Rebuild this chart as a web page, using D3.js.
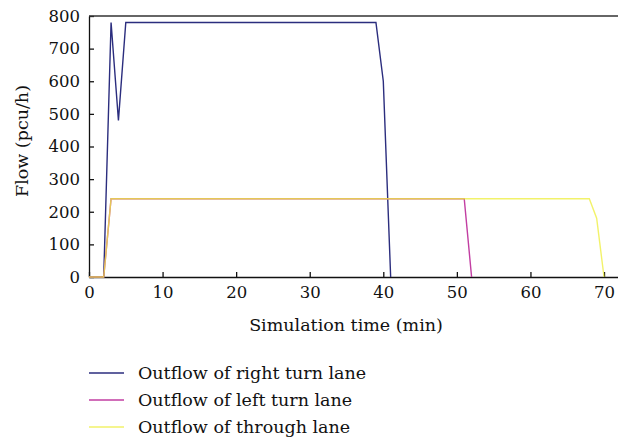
<!DOCTYPE html>
<html><head><meta charset="utf-8">
<script src="https://cdn.jsdelivr.net/npm/d3@7"></script>
<style>body{margin:0;background:#fff}svg{display:block}text{font-family:"DejaVu Serif",serif;fill:#111}</style>
</head><body><svg id="c" width="618" height="440"></svg>
<script>
const rightTime = [0,2,3,4,5,39,40,41];
const rightFlow = [0,0,780,480,780,780,600,0];
const leftTime = [0,2,3,51,52];
const leftFlow = [0,0,240,240,0];
const throughTime = [0,2,3,68,69,70];
const throughFlow = [0,0,240,240,180,0];
const xTicks = [0,10,20,30,40,50,60,70];
const yTicks = [0,100,200,300,400,500,600,700,800];
const legendLabels = ["Outflow of right turn lane","Outflow of left turn lane","Outflow of through lane"];

const svg = d3.select("#c");
const x = d3.scaleLinear().domain([0,71.9]).range([89,618]);
const y = d3.scaleLinear().domain([0,800]).range([277,16]);

const series = [
  {t:rightTime, v:rightFlow, color:"#2b2d7e", op:1},
  {t:leftTime, v:leftFlow, color:"#c23ea2", op:1},
  {t:throughTime, v:throughFlow, color:"#eeee40", op:0.78}
];

const xa = svg.append("g").attr("transform","translate(0,277)")
  .call(d3.axisBottom(x).tickValues(xTicks).tickSize(-5).tickPadding(9).tickSizeOuter(0));
const ya = svg.append("g").attr("transform","translate(89,0)")
  .call(d3.axisLeft(y).tickValues(yTicks).tickSize(-5).tickPadding(9).tickSizeOuter(0));
[xa,ya].forEach(a=>{
  a.selectAll("path,line").attr("stroke","#111").attr("stroke-width",1.3);
  a.selectAll("text").style("font-family","DejaVu Serif, serif").style("font-size","16.5px").attr("fill","#111");
});
svg.append("line").attr("x1",89).attr("x2",618).attr("y1",16).attr("y2",16).attr("stroke","#333").attr("stroke-width",1.3);

const line = d3.line().x(d=>x(d[0])).y(d=>y(d[1]));
series.forEach(s=>{
  svg.append("path").datum(s.t.map((t,i)=>[t,s.v[i]]))
    .attr("d",line).attr("fill","none").attr("stroke",s.color)
    .attr("stroke-width",1.4).attr("stroke-opacity",s.op);
});

svg.append("text").attr("x",346).attr("y",331).attr("text-anchor","middle").style("font-size","17.5px").text("Simulation time (min)");
svg.append("text").attr("transform","translate(28,141) rotate(-90)").attr("text-anchor","middle").style("font-size","17.5px").text("Flow (pcu/h)");

legendLabels.forEach((l,i)=>{
  const yy = 373 + i*27;
  svg.append("line").attr("x1",89).attr("x2",124).attr("y1",yy).attr("y2",yy).attr("stroke",series[i].color).attr("stroke-width",1.4).attr("stroke-opacity",series[i].op);
  svg.append("text").attr("x",138).attr("y",yy+6).style("font-size","17.5px").text(l);
});
</script></body></html>
